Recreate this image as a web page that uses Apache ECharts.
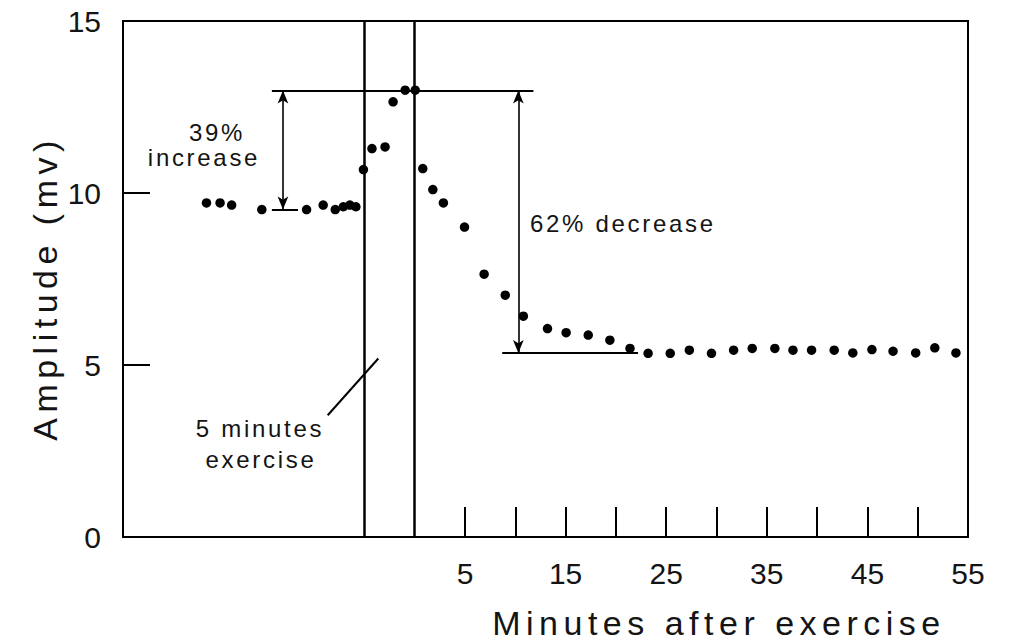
<!DOCTYPE html>
<html>
<head>
<meta charset="utf-8">
<script src="https://cdn.jsdelivr.net/npm/echarts@6/dist/echarts.min.js"></script>
<style>
html,body{margin:0;padding:0;background:#fff;}
#chart{width:1011px;height:642px;}
#chart text[style*="34px"]{letter-spacing:5.5px;}
#chart text[style*="24px"]{letter-spacing:2.7px;}
</style>
</head>
<body>
<div id="chart"></div>
<script>
// ---- data ----
const minutes = [-20.7, -19.35, -18.2, -15.2, -10.75, -9.1, -7.9, -7.1, -6.45, -5.85,
  -5.1, -4.25, -2.95, -2.15, -0.95, 0.05,
  0.8, 1.8, 2.85, 4.95, 6.9, 9.0, 10.8, 13.2, 15.05, 17.25,
  19.4, 21.4, 23.2, 25.4, 27.3, 29.5, 31.7, 33.55, 35.8, 37.6,
  39.45, 41.7, 43.55, 45.45, 47.55, 49.8, 51.7, 53.8];
const amplitude = [9.71, 9.71, 9.65, 9.52, 9.52, 9.65, 9.52, 9.60, 9.65, 9.60,
  10.68, 11.29, 11.34, 12.65, 12.99, 12.99,
  10.71, 10.10, 9.71, 9.01, 7.64, 7.03, 6.42, 6.06, 5.94, 5.87,
  5.72, 5.48, 5.34, 5.34, 5.43, 5.34, 5.43, 5.48, 5.48, 5.43,
  5.43, 5.43, 5.35, 5.45, 5.40, 5.35, 5.50, 5.35];
const xTickValues = [5, 10, 15, 20, 25, 30, 35, 40, 45, 50];
const xTickLabels = [5, 15, 25, 35, 45, 55];
const yTickValues = [5, 10];
const yTickLabels = [0, 5, 10, 15];
const exerciseBounds = [-5, 0];
const baselineLevel = 9.52;
const peakLevel = 12.98;
const plateauLevel = 5.35;

const ink = '#000';
const txt = '#141414';
const fam = '"Liberation Sans", Arial, Helvetica, sans-serif';

const chart = echarts.init(document.getElementById('chart'), null, {renderer: 'svg'});

const plainLine = {color: ink, width: 2, type: 'solid'};

chart.setOption({
  animation: false,
  backgroundColor: '#fff',
  grid: {left: 123, right: 43, top: 21, bottom: 105, show: true, borderColor: ink, borderWidth: 2, backgroundColor: 'transparent'},
  xAxis: {
    type: 'value', min: -29, max: 55,
    axisLine: {show: true, onZero: false, lineStyle: {color: ink, width: 2}},
    axisTick: {show: true, inside: true, length: 30, customValues: xTickValues, lineStyle: {color: ink, width: 2}},
    axisLabel: {show: true, customValues: xTickLabels, margin: 21, color: txt, fontSize: 30, fontFamily: fam},
    splitLine: {show: false}
  },
  yAxis: {
    type: 'value', min: 0, max: 15,
    axisLine: {show: true, onZero: false, lineStyle: {color: ink, width: 2}},
    axisTick: {show: true, inside: true, length: 27, customValues: yTickValues, lineStyle: {color: ink, width: 2}},
    axisLabel: {show: true, customValues: yTickLabels, margin: 22, color: txt, fontSize: 30, fontFamily: fam},
    splitLine: {show: false}
  },
  graphic: [
    {type: 'text', x: 45, y: 288, rotation: Math.PI / 2, style: {text: 'Amplitude (mv)', fontSize: 34, fontFamily: fam, fill: txt, align: 'center', verticalAlign: 'middle'}},
    {type: 'text', x: 719, y: 623, style: {text: 'Minutes after exercise', fontSize: 34, fontFamily: fam, fill: txt, align: 'center', verticalAlign: 'middle'}},
    {type: 'text', x: 217, y: 132, style: {text: '39%', fontSize: 24, fontFamily: fam, fill: txt, align: 'center', verticalAlign: 'middle'}},
    {type: 'text', x: 204, y: 157, style: {text: 'increase', fontSize: 24, fontFamily: fam, fill: txt, align: 'center', verticalAlign: 'middle'}},
    {type: 'text', x: 530, y: 223, style: {text: '62% decrease', fontSize: 24, fontFamily: fam, fill: txt, align: 'left', verticalAlign: 'middle'}},
    {type: 'text', x: 260, y: 428, style: {text: '5 minutes', fontSize: 24, fontFamily: fam, fill: txt, align: 'center', verticalAlign: 'middle'}},
    {type: 'text', x: 261, y: 459, style: {text: 'exercise', fontSize: 24, fontFamily: fam, fill: txt, align: 'center', verticalAlign: 'middle'}}
  ],
  series: [
    {
      type: 'line', data: [], z: 1, silent: true,
      markLine: {
        silent: true, symbol: ['none', 'none'], label: {show: false},
        lineStyle: plainLine, emphasis: {disabled: true},
        data: [
          {xAxis: exerciseBounds[0], lineStyle: {color: ink, width: 2.5, type: 'solid'}},
          {xAxis: exerciseBounds[1], lineStyle: {color: ink, width: 2.5, type: 'solid'}},
          [{coord: [-14.2, peakLevel]}, {coord: [11.8, peakLevel]}],
          [{coord: [-14.2, baselineLevel]}, {coord: [-11.6, baselineLevel]}],
          [{coord: [8.7, plateauLevel]}, {coord: [22.2, plateauLevel]}],
          [{coord: [-8.65, 3.54]}, {coord: [-3.62, 5.19]}]
        ]
      }
    },
    {
      type: 'line', data: [], z: 1, silent: true,
      markLine: {
        silent: true, symbol: ['arrow', 'arrow'], symbolSize: [8, 13], label: {show: false},
        lineStyle: {color: ink, width: 1.6, type: 'solid'}, emphasis: {disabled: true},
        data: [
          [{coord: [-13.1, baselineLevel]}, {coord: [-13.1, peakLevel]}],
          [{coord: [10.3, plateauLevel]}, {coord: [10.3, peakLevel]}]
        ]
      }
    },
    {
      type: 'scatter', z: 3, symbol: 'circle', symbolSize: 9.5,
      itemStyle: {color: ink, opacity: 1},
      emphasis: {disabled: true},
      data: minutes.map((m, i) => [m, amplitude[i]])
    }
  ]
});
</script>
</body>
</html>
